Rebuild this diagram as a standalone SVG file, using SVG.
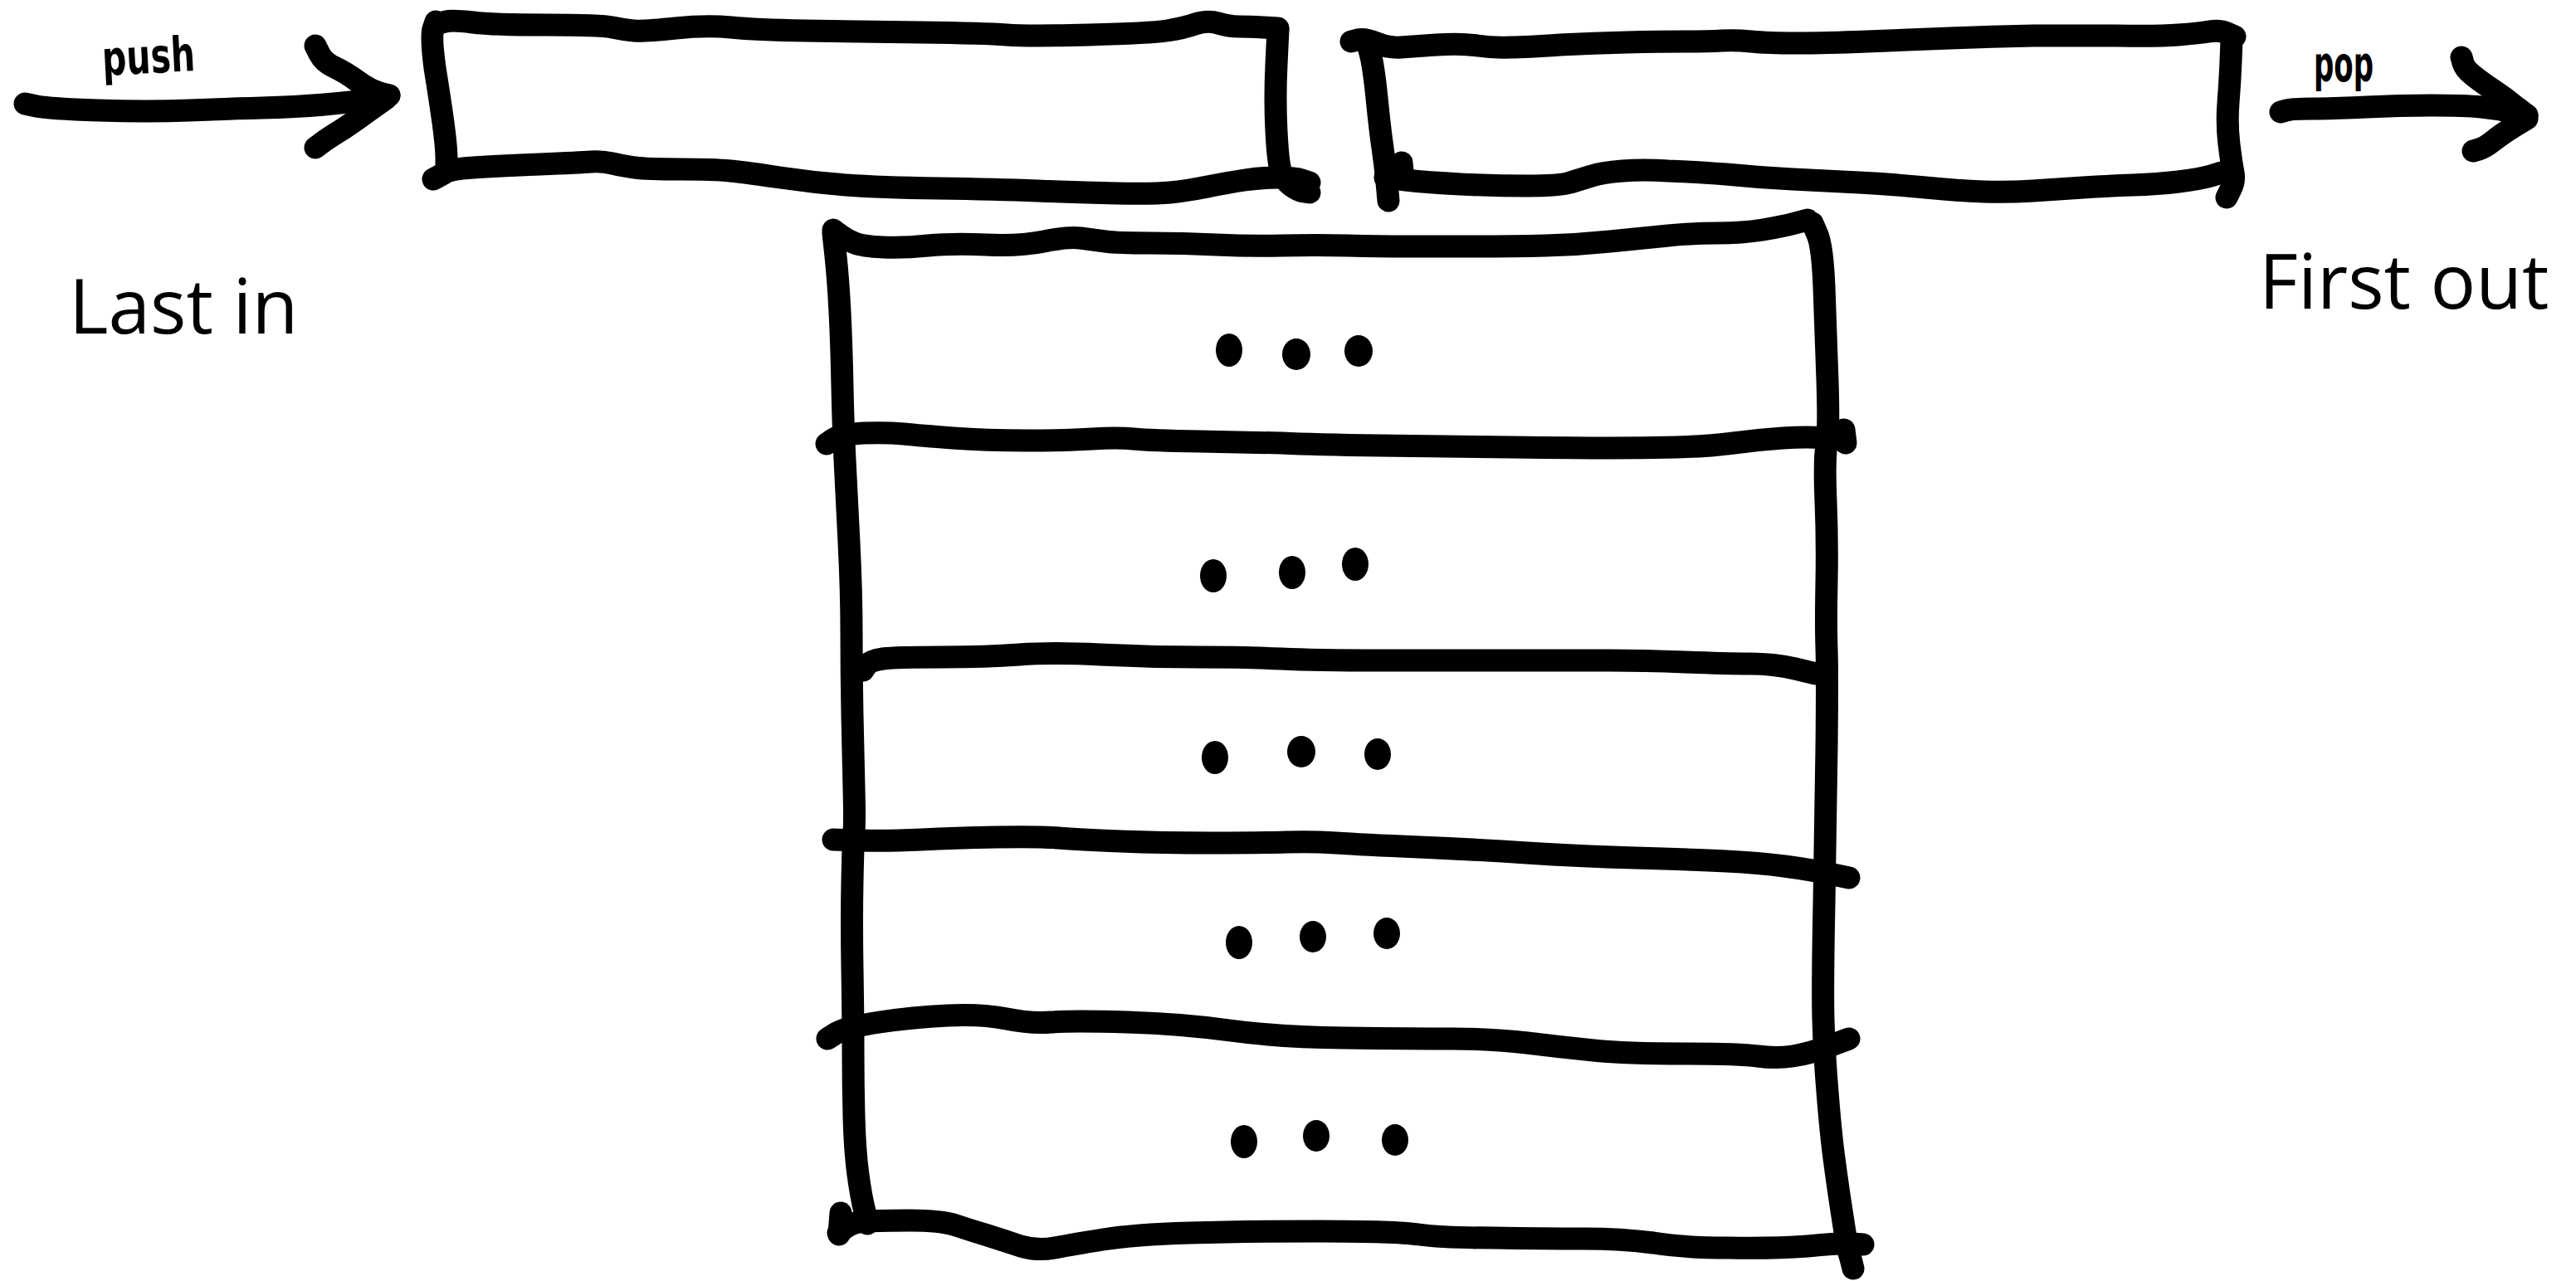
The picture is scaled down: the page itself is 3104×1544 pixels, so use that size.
<svg xmlns="http://www.w3.org/2000/svg" width="3104" height="1544" viewBox="0 0 3104 1544">
<style>
.ink{fill:none;stroke:#000;stroke-width:27;stroke-linecap:round;stroke-linejoin:round}
.dot{fill:#000}
.lbl{font-family:"Open Sans","Liberation Sans",sans-serif;font-size:91px;fill:#000}
.hand{font-family:"DejaVu Sans Condensed","Liberation Sans",sans-serif;font-weight:bold;font-size:58px;fill:#000}
</style>
<rect width="3104" height="1544" fill="#fff"/>
<g id="connectors">
  <g id="push-arrow">
    <path class="ink" d="M30,125 L44,128 Q59,131 118,133 Q178,135 228,133 Q277,131 316,130 Q356,129 391,126 Q426,123 448,119 L469,115"/>
    <path class="ink" d="M380,55 L385,65 Q390,75 403,81 Q416,87 431,98 Q446,109 458,112 L469,115"/>
    <path class="ink" d="M380,178 L388,172 Q396,166 414,155 Q432,143 448,131 L465,119"/>
    <text class="hand" x="123" y="88" textLength="112" lengthAdjust="spacingAndGlyphs" transform="rotate(-3 180 70)">push</text>
  </g>
  <g id="pop-arrow">
    <path class="ink" d="M2748,135 L2755,133 Q2762,131 2787,131 Q2812,131 2852,129 Q2891,127 2930,127 Q2970,127 2990,129 Q3010,131 3028,135 L3045,139"/>
    <path class="ink" d="M2966,69 L2968,76 Q2970,83 2980,91 Q2990,99 3005,109 Q3020,119 3032,129 L3045,139"/>
    <path class="ink" d="M2980,182 L2987,180 Q2994,178 3004,170 Q3014,162 3030,152 L3045,143"/>
    <text class="hand" x="2788" y="98" textLength="72" lengthAdjust="spacingAndGlyphs">pop</text>
  </g>
</g>
<g id="box-in">
  <path class="ink" d="M529,28 L537,26 Q545,24 570,27 Q594,30 658,30 Q723,30 738,33 Q752,36 764,37 Q776,38 814,34 Q851,30 881,33 Q911,36 970,37 Q1030,38 1109,39 Q1188,40 1213,42 Q1238,44 1312,42 Q1386,40 1406,37 Q1426,34 1440,29 Q1455,24 1468,28 Q1481,32 1493,32 Q1505,32 1522,33 L1540,34"/>
  <path class="ink" d="M1540,36 L1538,78 Q1536,119 1538,158 Q1540,198 1544,208 Q1548,218 1556,224 Q1564,230 1571,231 L1578,232"/>
  <path class="ink" d="M522,216 L535,209 Q540,204 570,202 Q600,200 650,198 Q700,196 712,195 Q725,194 738,197 Q750,200 765,202 Q780,204 820,204 Q860,204 880,206 Q900,208 940,214 Q980,220 1020,223 Q1060,226 1130,227 Q1200,228 1250,230 Q1300,232 1345,233 Q1390,234 1410,232 Q1430,230 1455,225 Q1480,220 1500,217 Q1520,214 1540,214 Q1560,214 1569,217 L1578,220"/>
  <path class="ink" d="M525,26 L522,35 Q519,44 524,82 Q530,119 534,148 Q538,178 538,191 L538,204"/>
</g>
<g id="box-out">
  <path class="ink" d="M1628,50 L1636,48 Q1645,46 1659,52 Q1673,58 1688,57 Q1703,56 1731,54 Q1760,52 1780,55 Q1800,58 1820,57 Q1840,57 1880,54 Q1920,52 1960,51 Q2000,50 2030,50 Q2060,50 2075,49 Q2090,48 2110,50 Q2130,52 2165,52 Q2200,52 2250,50 Q2300,48 2350,46 Q2400,44 2450,43 Q2500,43 2550,43 Q2600,44 2625,42 Q2650,40 2662,38 Q2675,36 2684,40 L2693,44"/>
  <path class="ink" d="M2689,48 L2688,74 Q2687,99 2685,124 Q2683,149 2686,174 Q2689,198 2691,208 Q2693,218 2688,228 L2683,238"/>
  <path class="ink" d="M1669,214 L1694,217 Q1720,220 1760,222 Q1800,224 1840,224 Q1880,224 1892,220 Q1905,216 1918,212 Q1930,208 1955,206 Q1980,204 2010,206 Q2040,207 2080,210 Q2120,214 2160,216 Q2200,218 2240,220 Q2280,222 2320,226 Q2360,230 2390,231 Q2420,232 2450,230 Q2480,228 2510,226 Q2540,224 2570,223 Q2600,222 2625,219 Q2650,216 2664,212 L2677,208"/>
  <path class="ink" d="M1647,50 L1651,64 Q1655,79 1659,118 Q1663,158 1666,178 Q1669,198 1671,220 L1673,242"/>
  <path class="ink" d="M1689,196 L1690,206"/>
</g>
<g id="stack">
  <path class="ink" d="M1004,277 L1012,283 Q1020,289 1030,293 Q1040,297 1064,298 Q1089,299 1118,296 Q1148,293 1188,295 Q1228,297 1258,291 Q1287,285 1302,287 Q1317,289 1332,291 Q1346,293 1386,293 Q1426,293 1466,295 Q1505,297 1544,296 Q1584,295 1624,296 Q1663,297 1693,297 Q1723,297 1772,297 Q1822,297 1862,296 Q1901,295 1940,291 Q1980,287 2010,284 Q2039,281 2069,281 Q2099,281 2124,277 Q2148,273 2163,269 L2178,265"/>
  <path class="ink" d="M2184,269 L2190,283 Q2196,297 2198,346 Q2200,396 2202,458 Q2204,519 2201,536 Q2198,554 2200,604 Q2202,653 2201,702 Q2200,752 2201,782 Q2202,812 2201,901 Q2200,990 2198,1089 Q2196,1188 2197,1228 Q2198,1267 2202,1316 Q2206,1366 2210,1396 Q2214,1426 2217,1446 Q2220,1465 2223,1485 Q2226,1505 2230,1517 L2233,1529"/>
  <path class="ink" d="M1004,281 L1007,309 Q1010,337 1012,376 Q1014,416 1015,466 Q1016,515 1018,554 Q1020,594 1023,654 Q1026,713 1026,762 Q1026,812 1027,862 Q1028,911 1029,950 Q1030,990 1029,1002 Q1028,1014 1027,1062 Q1026,1109 1027,1168 Q1028,1228 1028,1268 Q1028,1307 1029,1346 Q1030,1386 1034,1416 Q1038,1445 1042,1460 L1045,1475"/>
  <path class="ink" d="M996,535 L1003,530 Q1010,524 1040,522 Q1069,521 1089,523 Q1109,525 1148,528 Q1188,531 1238,531 Q1287,531 1316,529 Q1346,527 1366,529 Q1386,531 1446,532 Q1505,533 1544,534 Q1584,536 1663,537 Q1742,538 1822,539 Q1901,540 1940,540 Q1980,540 2020,539 Q2059,538 2089,534 Q2119,530 2148,528 Q2178,526 2200,528 L2222,530"/>
  <path class="ink" d="M2222,518 L2224,534"/>
  <path class="ink" d="M1040,808 L1044,802 Q1049,796 1064,794 Q1079,792 1134,792 Q1188,792 1228,789 Q1267,786 1326,789 Q1386,792 1446,792 Q1505,792 1544,794 Q1584,796 1663,796 Q1742,796 1822,796 Q1901,796 1940,796 Q1980,796 2030,798 Q2079,800 2108,800 Q2138,800 2163,806 L2188,812"/>
  <path class="ink" d="M1004,1012 L1036,1013 Q1069,1014 1110,1012 Q1150,1010 1200,1009 Q1250,1008 1275,1010 Q1300,1012 1350,1014 Q1400,1016 1460,1016 Q1520,1016 1550,1015 Q1580,1014 1610,1016 Q1640,1018 1710,1021 Q1780,1024 1840,1028 Q1900,1032 1970,1034 Q2040,1036 2080,1038 Q2120,1040 2150,1044 Q2180,1048 2204,1053 L2228,1058"/>
  <path class="ink" d="M997,1252 L1008,1245 Q1020,1238 1060,1232 Q1100,1226 1142,1224 Q1184,1222 1213,1228 Q1242,1234 1267,1232 Q1292,1230 1358,1232 Q1424,1234 1482,1242 Q1540,1250 1620,1251 Q1700,1252 1750,1252 Q1800,1252 1840,1257 Q1880,1262 1920,1266 Q1960,1270 2028,1270 Q2096,1270 2118,1273 Q2140,1276 2160,1273 Q2180,1270 2204,1261 L2228,1252"/>
  <path class="ink" d="M1010,1486 L1020,1479 Q1030,1472 1045,1472 Q1060,1471 1097,1471 Q1134,1471 1152,1477 Q1170,1483 1190,1489 Q1209,1495 1230,1502 Q1250,1508 1271,1504 Q1292,1500 1329,1494 Q1366,1488 1433,1486 Q1500,1484 1590,1484 Q1681,1484 1710,1488 Q1739,1492 1800,1492 Q1860,1493 1908,1493 Q1955,1493 1992,1498 Q2029,1504 2083,1504 Q2137,1505 2178,1502 Q2220,1498 2232,1499 L2245,1500"/>
  <path class="ink" d="M1013,1462 L1011,1488"/>
  <g id="dots">
    <ellipse class="dot" cx="1481" cy="422" rx="16" ry="20"/>
    <ellipse class="dot" cx="1562" cy="427" rx="17" ry="19"/>
    <ellipse class="dot" cx="1637" cy="423" rx="17" ry="19"/>
    <ellipse class="dot" cx="1462" cy="694" rx="16" ry="20"/>
    <ellipse class="dot" cx="1557" cy="690" rx="16" ry="20"/>
    <ellipse class="dot" cx="1633" cy="680" rx="16" ry="20"/>
    <ellipse class="dot" cx="1464" cy="913" rx="16" ry="20"/>
    <ellipse class="dot" cx="1568" cy="906" rx="17" ry="19"/>
    <ellipse class="dot" cx="1660" cy="909" rx="16" ry="19"/>
    <ellipse class="dot" cx="1493" cy="1136" rx="16" ry="20"/>
    <ellipse class="dot" cx="1582" cy="1129" rx="16" ry="19"/>
    <ellipse class="dot" cx="1671" cy="1125" rx="16" ry="19"/>
    <ellipse class="dot" cx="1499" cy="1376" rx="16" ry="20"/>
    <ellipse class="dot" cx="1586" cy="1369" rx="16" ry="19"/>
    <ellipse class="dot" cx="1681" cy="1374" rx="16" ry="19"/>
  </g>
</g>
<g id="labels">
  <text class="lbl" x="83" y="402">Last in</text>
  <text class="lbl" x="2722" y="372">First out</text>
</g>
</svg>
